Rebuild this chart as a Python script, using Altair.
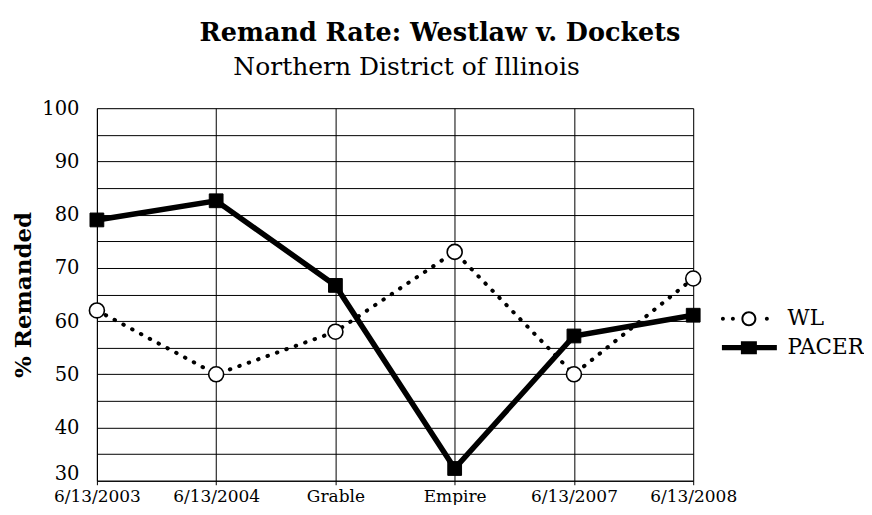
import altair as alt
import pandas as pd

title_text = "Remand Rate: Westlaw v. Dockets"
subtitle_text = "Northern District of Illinois"
categories = ["6/13/2003", "6/13/2004", "Grable", "Empire", "6/13/2007", "6/13/2008"]
wl_values = [62, 50, 58, 73, 50, 68]
pacer_values = [79, 82.6, 66.7, 32.3, 57.2, 61.1]
series_names = ["WL", "PACER"]
y_ticks = [30, 35, 40, 45, 50, 55, 60, 65, 70, 75, 80, 85, 90, 95, 100]

rows = []
for c, v in zip(categories, wl_values):
    rows.append({"date": c, "value": v, "series": "WL"})
for c, v in zip(categories, pacer_values):
    rows.append({"date": c, "value": v, "series": "PACER"})
df = pd.DataFrame(rows)

FONT = "DejaVu Serif"

x_enc = alt.X("date:N", sort=categories,
              scale=alt.Scale(type="point", padding=0),
              axis=alt.Axis(title=None, labelAngle=0, labelFont=FONT, labelFontSize=17,
                            labelColor="black", tickColor="black", tickSize=4,
                            labelPadding=4, grid=True, gridColor="black",
                            gridOpacity=1, gridWidth=1, domainColor="black"))
y_enc = alt.Y("value:Q",
              scale=alt.Scale(domain=[30, 100], nice=False, zero=False),
              axis=alt.Axis(title="% Remanded", values=y_ticks,
                            labelExpr="datum.value % 10 == 0 ? datum.label : ''",
                            labelOffset={"condition": {"test": "datum.value == 30", "value": -7},
                                         "value": 0},
                            labelFont=FONT, labelFontSize=19.5, labelColor="black",
                            labelPadding=18, ticks=False, titleFont=FONT,
                            titleFontSize=23, titleFontWeight="bold", titleColor="black",
                            titlePadding=6, grid=True, gridColor="black",
                            gridOpacity=1, gridWidth=1, domainColor="black"))

base = alt.Chart(df)
wl = base.transform_filter(alt.datum.series == "WL")
pacer = base.transform_filter(alt.datum.series == "PACER")

wl_line = wl.mark_line(
    color="black", strokeWidth=4, strokeDash=[0.5, 9.5], strokeCap="round"
).encode(x=x_enc, y=y_enc)

pacer_line = pacer.mark_line(color="black", strokeWidth=5.5).encode(x=x_enc, y=y_enc)

wl_points = wl.mark_point(shape="circle", fill="white", stroke="black", strokeWidth=1.6,
                          opacity=1, size=225).encode(x=x_enc, y=y_enc)
pacer_points = pacer.mark_point(shape="square", fill="black", stroke="black", strokeWidth=1,
                                opacity=1, size=190).encode(x=x_enc, y=y_enc)

# legend-only symbols: line + marker drawn as one path each
wl_path = ("M 0.75 0 A 0.75 0.75 0 1 1 -0.75 0 A 0.75 0.75 0 1 1 0.75 0 Z "
           "M 0.55 0 A 0.55 0.55 0 1 0 -0.55 0 A 0.55 0.55 0 1 0 0.55 0 Z "
           "M -2.4 0 A 0.2 0.2 0 1 1 -2.8 0 A 0.2 0.2 0 1 1 -2.4 0 Z "
           "M -1.4 0 A 0.2 0.2 0 1 1 -1.8 0 A 0.2 0.2 0 1 1 -1.4 0 Z "
           "M 2.0 0 A 0.2 0.2 0 1 1 1.6 0 A 0.2 0.2 0 1 1 2.0 0 Z")
pacer_path = ("M -2.7 -0.27 L 2.8 -0.27 L 2.8 0.27 L -2.7 0.27 Z "
              "M -0.8 -0.65 L 0.8 -0.65 L 0.8 0.65 L -0.8 0.65 Z")

legend = alt.Legend(
    title=None, orient="none", legendX=642, legendY=200,
    symbolSize=400, symbolOpacity=1, symbolFillColor="black",
    symbolStrokeColor="black", symbolStrokeWidth=0,
    labelFont=FONT, labelFontSize=21.5, labelColor="black",
    labelOffset=28, rowPadding=6,
)

legend_layer = base.mark_point(filled=True, color="black", opacity=0, size=400).encode(
    x=x_enc, y=y_enc,
    shape=alt.Shape("series:N",
                    scale=alt.Scale(domain=series_names, range=[wl_path, pacer_path]),
                    legend=legend),
)

subtitle_layer = alt.Chart(pd.DataFrame({"t": [subtitle_text]})).mark_text(
    font=FONT, fontSize=25, color="black", align="center", baseline="middle"
).encode(text="t:N", x=alt.value(310), y=alt.value(-41))

chart = alt.layer(legend_layer, wl_line, pacer_line, wl_points, pacer_points,
                  subtitle_layer).properties(
    width=597, height=373,
    padding={"left": 4, "top": 12, "right": 0, "bottom": 0},
    title=alt.TitleParams(
        text=title_text,
        font=FONT, fontSize=25.5, fontWeight="bold", color="black",
        anchor="middle", dx=45, offset=9
    )
).configure_view(stroke="black", strokeWidth=1).configure(background="white")

chart.save("out.html", embed_options={"renderer": "svg", "actions": False})
